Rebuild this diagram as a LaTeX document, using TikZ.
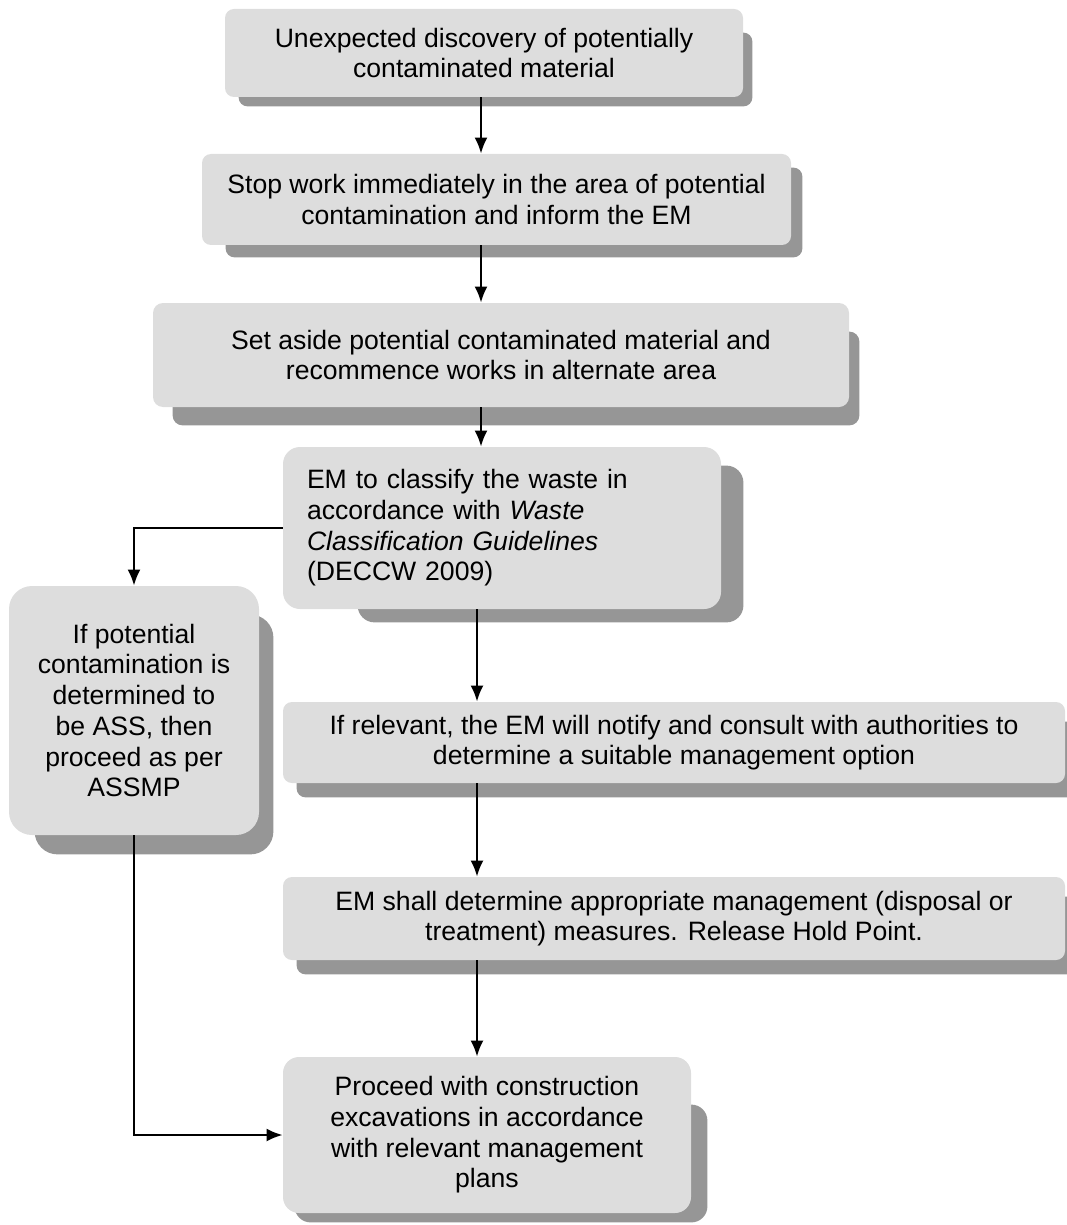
\documentclass[tikz,border=0pt]{standalone}
\usepackage{fontspec}
\setmainfont{Liberation Sans}
\usepackage{xcolor}
\usetikzlibrary{arrows.meta,backgrounds}
\definecolor{boxgrey}{RGB}{221,221,221}
\definecolor{shadegrey}{RGB}{150,150,150}

\begin{document}
\begin{tikzpicture}[x=0.5pt, y=-0.5pt, >={Latex[length=8pt,width=6.5pt]},
    box/.style={fill=boxgrey, align=center, inner sep=0pt, font=\fontsize{13.3}{15.35}\selectfont},
    link/.style={->, line width=1.1pt}]
    \useasboundingbox (0,0) rectangle (1066,1225);

    \node[box, rounded corners=4.5pt, minimum width=259pt, minimum height=44pt] (discover) at (484,53) {Unexpected discovery of potentially\\contaminated material};
    \node[box, rounded corners=4.5pt, minimum width=294.5pt, minimum height=45.5pt] (stopwork) at (496.5,199.5) {Stop work immediately in the area of potential\\contamination and inform the EM};
    \node[box, rounded corners=5pt, minimum width=348pt, minimum height=52pt] (setaside) at (501,355) {Set aside potential contaminated material and\\recommence works in alternate area};
    \node[box, rounded corners=8.5pt, align=left, text width=195pt, inner xsep=12pt, minimum height=81pt] (classify) at (502,528) {EM to classify the waste in\\accordance with \textit{Waste}\\\textit{Classification Guidelines}\\(DECCW 2009)};
    \node[box, rounded corners=11.5pt, minimum width=125pt, minimum height=124.5pt] (acidsoil) at (134,710.5) {If potential\\contamination is\\determined to\\be ASS, then\\proceed as per\\ASSMP};
    \node[box, rounded corners=4.5pt, minimum width=391pt, minimum height=40.5pt] (notify) at (674,742.5) {If relevant, the EM will notify and consult with authorities to\\determine a suitable management option};
    \node[box, rounded corners=4.5pt, minimum width=391pt, minimum height=41.5pt] (measures) at (674,918.5) {EM shall determine appropriate management (disposal or\\treatment) measures. Release Hold Point.};
    \node[box, rounded corners=8pt, minimum width=204pt, minimum height=78pt] (proceed) at (487,1135) {Proceed with construction\\excavations in accordance\\with relevant management\\plans};

    % shadows behind the boxes
    \begin{scope}[on background layer]
        \foreach \n/\l/\t/\r/\b/\c in {discover/14/24/9/9/4.5pt, stopwork/24/14/11/12/4.5pt,
            setaside/20/29/10/18/5pt, classify/75/19/22/13/8.5pt, acidsoil/26/29/14/19/11.5pt,
            notify/14/20/14/14/4.5pt, measures/14/20/14/14/4.5pt, proceed/12/48/16/9/8pt}
            \fill[shadegrey, rounded corners=\c] ([shift={(\l,\t)}]\n.north west) rectangle ([shift={(\r,\b)}]\n.south east);
    \end{scope}

    \coordinate (upper) at (481,0);
    \coordinate (lower) at (477,0);
    \draw[link] (discover.south -| upper) -- (stopwork.north -| upper);
    \draw[link] (stopwork.south -| upper) -- (setaside.north -| upper);
    \draw[link] (setaside.south -| upper) -- (classify.north -| upper);
    \draw[link] (classify.south -| lower) -- (notify.north -| lower);
    \draw[link] (notify.south -| lower) -- (measures.north -| lower);
    \draw[link] (measures.south -| lower) -- (proceed.north -| lower);
    \draw[link] (classify.west) -| (acidsoil.north);
    \draw[link] (acidsoil.south) |- (proceed.west);
\end{tikzpicture}
\end{document}
